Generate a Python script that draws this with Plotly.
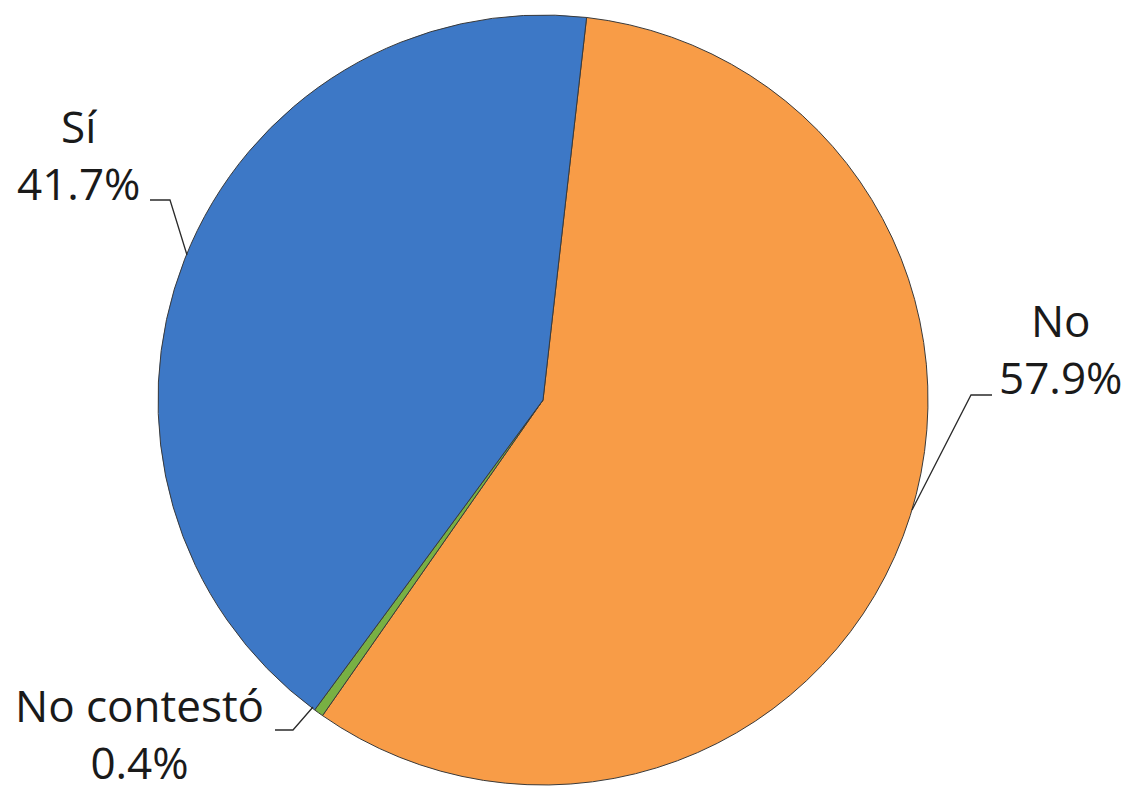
import plotly.graph_objects as go

labels = ["No", "No contestó", "Sí"]
values = [57.9, 0.4, 41.7]
colors = ["#F89C47", "#78B043", "#3D78C6"]

# page size and body offset of the figure inside the page
PAGE_W, PAGE_H = 1130, 794
OFF = 8
W, H = PAGE_W - OFF, PAGE_H - OFF

def px(x, y):
    """page pixel -> paper coordinates"""
    return (x - OFF) / W, 1 - (y - OFF) / H

# pie geometry (page pixels)
cx, cy, r = 543, 400, 385
x0, y0 = px(cx - r, cy + r)
x1, y1 = px(cx + r, cy - r)

fig = go.Figure(go.Pie(
    labels=labels,
    values=values,
    sort=False,
    direction="clockwise",
    rotation=6.5,
    marker=dict(colors=colors, line=dict(color="#3a3a3a", width=1)),
    textinfo="none",
    hoverinfo="label+percent",
    showlegend=False,
    domain=dict(x=[x0, x1], y=[y0, y1]),
))

# label placements: page-pixel anchor point and vertical anchor of the two-line label
label_pos = {
    "Sí": (78, 154, "middle"),
    "No": (1060, 348, "middle"),
    "No contestó": (139, PAGE_H, "bottom"),
}
leaders = {
    "Sí": [(150, 200), (170, 200), (187, 255)],
    "No": [(992, 395), (971, 395), (912, 510)],
    "No contestó": [(275, 730), (293, 730), (313, 707)],
}

font = dict(family="Open Sans, sans-serif", size=44, color="#1a1a1a")
annotations = []
shapes = []
for lab, val in zip(labels, values):
    lx, ly, anchor = label_pos[lab]
    ax, ay = px(lx, ly)
    annotations.append(dict(text=f"{lab}<br>{val:.1f}%", x=ax, y=ay,
                            xref="paper", yref="paper", showarrow=False, font=font,
                            align="center", xanchor="center", yanchor=anchor))
    pts = [px(*p) for p in leaders[lab]]
    path = "M " + " L ".join(f"{a},{b}" for a, b in pts)
    shapes.append(dict(type="path", path=path, xref="paper", yref="paper",
                       line=dict(color="#2a2a2a", width=1.3)))

fig.update_layout(
    width=W, height=H,
    margin=dict(l=0, r=0, t=0, b=0),
    paper_bgcolor="white",
    plot_bgcolor="white",
    annotations=annotations,
    shapes=shapes,
)

fig.write_html("out.html")
